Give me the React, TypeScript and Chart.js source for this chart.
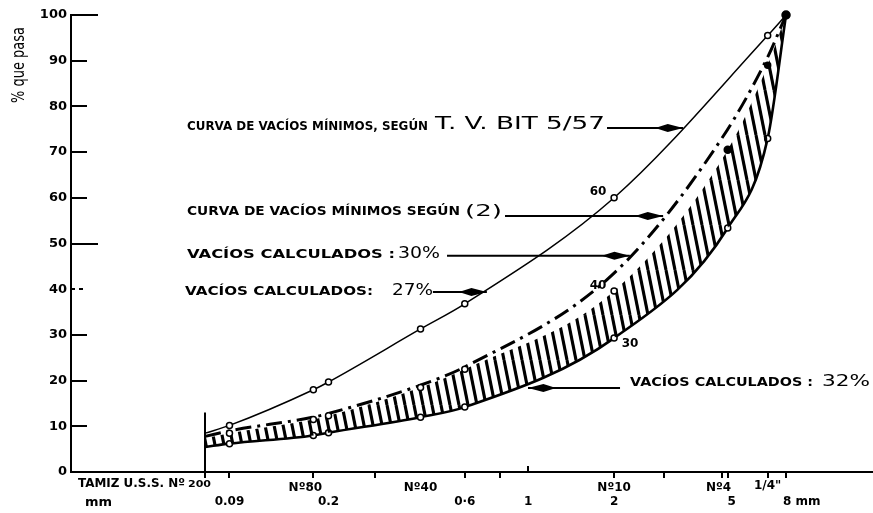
import React, { useEffect, useRef } from 'react';
import { Chart, registerables } from 'chart.js';

Chart.register(...registerables);

// ---------------- data: sieve opening (mm) and % passing ----------------
const sizesTVBit = [0.074, 0.09, 0.177, 0.2, 0.42, 0.6, 2, 6.9, 8];
const passTVBit = [8.5, 10.2, 18, 19.7, 31.3, 36.8, 60, 95.5, 100];

const sizesCurve2 = [0.074, 0.09, 0.177, 0.2, 0.42, 0.6, 2, 4.8, 6.9, 8];
const passCurve2 = [7.8, 9, 12, 12.8, 19, 23, 43.5, 73.3, 90.8, 100];

const sizesBandTop = [0.074, 0.09, 0.177, 0.2, 0.42, 0.6, 2, 5, 6.9, 8];
const passBandTop = [7.4, 8.5, 11.5, 12.3, 18.5, 22.5, 39.6, 70.5, 89, 100];

const sizesBandBottom = [0.074, 0.09, 0.177, 0.2, 0.42, 0.6, 2, 5, 6.9, 8];
const passBandBottom = [5.5, 6.2, 8, 8.6, 12, 14.2, 29.3, 53.4, 73, 100];

const yTickValues = [0, 10, 20, 30, 40, 50, 60, 70, 80, 90, 100];
const xTickMarks = [0.09, 0.177, 0.29, 0.6, 0.8, 2, 3, 4.76, 5, 6.9, 8];
const xTickUp = [1];
const sieveLabels = [
  { v: 0.177, t: 'Nº80' },
  { v: 0.42, t: 'Nº40' },
  { v: 2, t: 'Nº10' },
  { v: 4.76, t: 'Nº4' },
  { v: 6.9, t: '1/4"' },
];
const mmLabels = [
  { v: 0.09, t: '0.09' },
  { v: 0.2, t: '0.2' },
  { v: 0.6, t: '0·6' },
  { v: 1, t: '1' },
  { v: 2, t: '2' },
  { v: 5, t: '5' },
];
const No200 = 0.074;
const lastSize = 8;

// arrows of the annotations: [from mm, to mm, % passing]
const arrowT1 = [1.889, 3.49, 75.3];
const arrowT2 = [0.83, 2.97, 56.0];
const arrowT3 = [0.52, 2.27, 47.3];
const arrowT4 = [0.464, 0.717, 39.4];
const arrowT5 = [2.098, 0.999, 18.4];

// ---------------- styles ----------------
const FONT = '"DejaVu Sans", "Liberation Sans", sans-serif';
const markTVBit = [0, 3, 3, 3, 3, 3, 3, 3, 4];
const fillTVBit = ['#fff', '#fff', '#fff', '#fff', '#fff', '#fff', '#fff', '#fff', '#000'];
const markTop = [0, 3, 3, 3, 3, 3, 3, 3.5, 3, 0];
const fillTop = ['#fff', '#fff', '#fff', '#fff', '#fff', '#fff', '#fff', '#000', '#000', '#fff'];
const markBottom = [0, 3, 3, 3, 3, 3, 3, 3, 3, 0];

function pts(xs: number[], ys: number[]) {
  return xs.map((x, i) => ({ x, y: ys[i] }));
}

function makeHatch(): CanvasPattern | string {
  const c = document.createElement('canvas');
  c.width = 9;
  c.height = 45;
  const g = c.getContext('2d');
  if (!g) return '#ccc';
  g.strokeStyle = '#000';
  g.lineWidth = 3.1;
  for (const x0 of [-9, 0, 9]) {
    g.beginPath();
    g.moveTo(x0, 0);
    g.lineTo(x0 + 9, 45);
    g.stroke();
  }
  const p = g.createPattern(c, 'repeat');
  return p || '#ccc';
}

function fitText(ctx: CanvasRenderingContext2D, text: string, x0: number, x1: number, cy: number, size: number, weight = 'bold') {
  ctx.save();
  ctx.font = `${weight} ${size}px ${FONT}`;
  ctx.textBaseline = 'middle';
  ctx.textAlign = 'left';
  const w = ctx.measureText(text).width;
  ctx.translate(x0, cy);
  ctx.scale((x1 - x0) / w, 1);
  ctx.fillText(text, 0, 0);
  ctx.restore();
}

function drawArrow(ctx: CanvasRenderingContext2D, x0: number, y0: number, x1: number, y1: number) {
  const dx = x1 - x0;
  const dy = y1 - y0;
  const L = Math.hypot(dx, dy);
  const ux = dx / L;
  const uy = dy / L;
  ctx.save();
  ctx.lineWidth = 2;
  ctx.beginPath();
  ctx.moveTo(x0, y0);
  ctx.lineTo(x1, y1);
  ctx.stroke();
  const hl = 28;
  const hw = 4;
  const bx = x1 - ux * hl;
  const by = y1 - uy * hl;
  const mx = x1 - ux * hl * 0.55;
  const my = y1 - uy * hl * 0.55;
  ctx.beginPath();
  ctx.moveTo(x1, y1);
  ctx.lineTo(mx - uy * hw, my + ux * hw);
  ctx.lineTo(bx, by);
  ctx.lineTo(mx + uy * hw, my - ux * hw);
  ctx.closePath();
  ctx.fill();
  ctx.restore();
}

const decor = {
  id: 'decor',
  afterDatasetsDraw(chart: any) {
    const { ctx, chartArea } = chart;
    const x = chart.scales.x;
    const y = chart.scales.y;
    ctx.save();
    ctx.fillStyle = '#000';
    ctx.strokeStyle = '#000';
    ctx.lineWidth = 2;

    // y tick marks drawn inward
    yTickValues.forEach((v) => {
      if (v === 0) return;
      const py = Math.round(y.getPixelForValue(v));
      const len = v === 50 || v === 100 ? 27 : 16;
      ctx.setLineDash(v === 40 ? [4, 4] : []);
      ctx.beginPath();
      ctx.moveTo(chartArea.left, py);
      ctx.lineTo(chartArea.left + len, py);
      ctx.stroke();
    });
    ctx.setLineDash([]);

    // x tick marks
    const b = chartArea.bottom;
    xTickMarks.forEach((v) => {
      const px = Math.round(x.getPixelForValue(v));
      ctx.beginPath();
      ctx.moveTo(px, b);
      ctx.lineTo(px, b + 6);
      ctx.stroke();
    });
    xTickUp.forEach((v) => {
      const px = Math.round(x.getPixelForValue(v));
      ctx.beginPath();
      ctx.moveTo(px, b - 6);
      ctx.lineTo(px, b);
      ctx.stroke();
    });
    // No 200 vertical line
    const p200 = Math.round(x.getPixelForValue(No200));
    ctx.beginPath();
    ctx.moveTo(p200, y.getPixelForValue(13));
    ctx.lineTo(p200, b + 6);
    ctx.stroke();

    // y axis title
    ctx.save();
    ctx.translate(20, 65);
    ctx.rotate(-Math.PI / 2);
    fitText(ctx, '% que pasa', -38, 38, 0, 17, 'normal');
    ctx.restore();

    // x axis labels
    fitText(ctx, 'TAMIZ U.S.S. Nº', 78, 185, b + 12, 13);
    fitText(ctx, '200', 188, 211, b + 13, 9);
    fitText(ctx, 'mm', 85, 112, b + 31, 12);
    ctx.font = `bold 12px ${FONT}`;
    ctx.textAlign = 'center';
    ctx.textBaseline = 'middle';
    sieveLabels.forEach((l) => {
      const px = x.getPixelForValue(l.v);
      const off = l.t === 'Nº80' ? -8 : l.t === 'Nº4' ? -3 : 0;
      ctx.fillText(l.t, px + off, b + (l.t === '1/4"' ? 14 : 16));
    });
    mmLabels.forEach((l) => {
      const px = x.getPixelForValue(l.v);
      ctx.fillText(l.t, px + (l.t === '5' ? 4 : 0), b + 30);
    });
    ctx.textAlign = 'left';
    ctx.fillText('8 mm', x.getPixelForValue(lastSize) - 3, b + 30);

    // curve point labels
    ctx.textAlign = 'center';
    const pA = chart.getDatasetMeta(3).data[6];
    const pC = chart.getDatasetMeta(0).data[6];
    const pD = chart.getDatasetMeta(1).data[6];
    if (pA) ctx.fillText('60', pA.x - 16, pA.y - 6);
    if (pC) ctx.fillText('40', pC.x - 16, pC.y - 5);
    if (pD) ctx.fillText('30', pD.x + 16, pD.y + 6);

    // annotations
    fitText(ctx, 'CURVA DE VACÍOS MÍNIMOS, SEGÚN', 187, 428, 127, 12);
    fitText(ctx, 'T. V. BIT 5/57', 435, 605, 124, 18, 'normal');
    fitText(ctx, 'CURVA DE VACÍOS MÍNIMOS SEGÚN', 187, 460, 212, 12);
    fitText(ctx, '(2)', 465, 502, 212, 16, 'normal');
    fitText(ctx, 'VACÍOS CALCULADOS :', 187, 395, 255, 12);
    fitText(ctx, '30%', 398, 440, 254, 16, 'normal');
    fitText(ctx, 'VACÍOS CALCULADOS:', 185, 373, 292, 12);
    fitText(ctx, '27%', 392, 433, 291, 16, 'normal');
    fitText(ctx, 'VACÍOS CALCULADOS :', 630, 813, 383, 12);
    fitText(ctx, '32%', 822, 870, 382, 16, 'normal');

    [arrowT1, arrowT2, arrowT3, arrowT4, arrowT5].forEach((a) => {
      const py = y.getPixelForValue(a[2]);
      drawArrow(ctx, x.getPixelForValue(a[0]), py, x.getPixelForValue(a[1]), py);
    });

    ctx.restore();
  },
};

export default function App() {
  const ref = useRef<HTMLCanvasElement>(null);
  useEffect(() => {
    const canvas = ref.current;
    if (!canvas) return;
    const hatch = makeHatch();
    const chart = new Chart(canvas, {
      type: 'line',
      data: {
        datasets: [
          {
            label: 'Vacíos calculados (banda superior)',
            data: pts(sizesBandTop, passBandTop),
            borderColor: 'rgba(0,0,0,0)',
            borderWidth: 1,
            backgroundColor: hatch as any,
            fill: '+1',
            pointRadius: markTop,
            pointBackgroundColor: fillTop,
            pointBorderColor: '#000',
            pointBorderWidth: 1.5,
            cubicInterpolationMode: 'monotone',
            clip: false,
          } as any,
          {
            label: 'Vacíos calculados: 32%',
            data: pts(sizesBandBottom, passBandBottom),
            borderColor: '#000',
            borderWidth: 2.6,
            backgroundColor: 'rgba(0,0,0,0)',
            fill: false,
            pointRadius: markBottom,
            pointBackgroundColor: '#fff',
            pointBorderColor: '#000',
            pointBorderWidth: 1.5,
            cubicInterpolationMode: 'monotone',
            clip: false,
          } as any,
          {
            label: 'Curva de vacíos mínimos según (2)',
            data: pts(sizesCurve2, passCurve2),
            borderColor: '#000',
            borderWidth: 3,
            borderDash: [16, 6, 3, 6],
            fill: false,
            pointRadius: 0,
            cubicInterpolationMode: 'monotone',
            clip: false,
          } as any,
          {
            label: 'Curva de vacíos mínimos, según T. V. BIT 5/57',
            data: pts(sizesTVBit, passTVBit),
            borderColor: '#000',
            borderWidth: 1.5,
            fill: false,
            pointRadius: markTVBit,
            pointBackgroundColor: fillTVBit,
            pointBorderColor: '#000',
            pointBorderWidth: 1.5,
            cubicInterpolationMode: 'monotone',
            clip: false,
          } as any,
        ],
      },
      options: {
        animation: false,
        responsive: false,
        devicePixelRatio: 1,
        layout: { autoPadding: false, padding: { top: 15, left: 0, right: 0, bottom: 0 } },
        plugins: {
          legend: { display: false },
          tooltip: { enabled: false },
        },
        scales: {
          x: {
            type: 'logarithmic',
            min: 0.02508,
            max: 16.13,
            bounds: 'data',
            grid: { display: false },
            border: { display: true, color: '#000', width: 2 },
            ticks: { display: false },
            afterFit: (s: any) => {
              s.height = 41;
            },
          },
          y: {
            min: 0,
            max: 100,
            grid: { display: false, drawTicks: false },
            border: { display: true, color: '#000', width: 2 },
            ticks: {
              stepSize: 10,
              color: '#000',
              padding: 4,
              font: { family: FONT, size: 13, weight: 'bold' },
            },
            afterFit: (s: any) => {
              s.width = 71;
            },
          },
        },
      } as any,
      plugins: [decor],
    });
    return () => chart.destroy();
  }, []);
  return (
    <div style={{ position: 'absolute', left: 0, top: 0, width: 873, height: 513, background: '#fff' }}>
      <canvas ref={ref} width={873} height={513} style={{ display: 'block', width: 873, height: 513 }} />
    </div>
  );
}
